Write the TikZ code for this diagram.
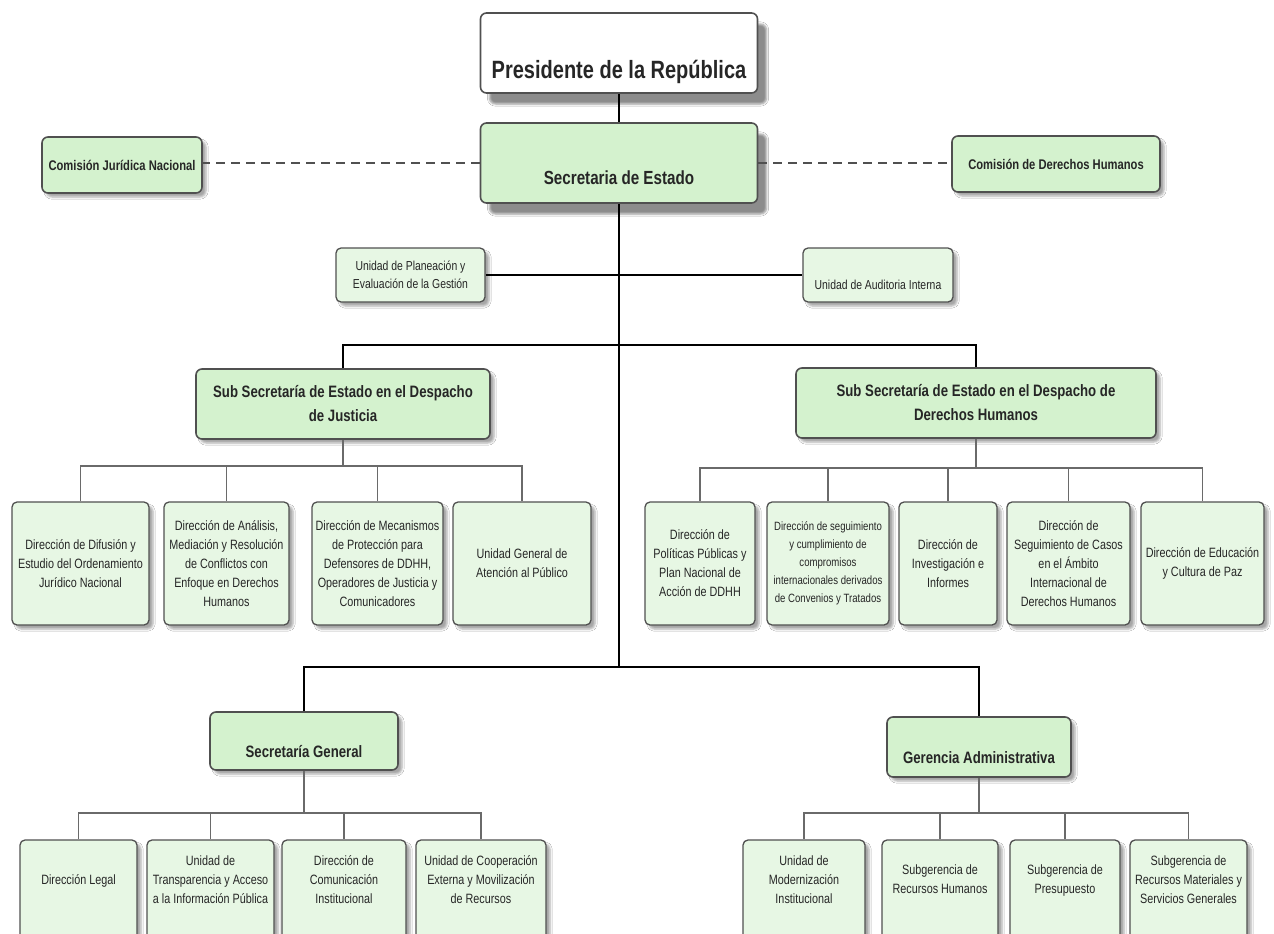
\documentclass[tikz,border=0pt]{standalone}
\usepackage{fontspec}
\setmainfont{Liberation Sans}[FakeStretch=0.8]
\usepackage{xcolor}
\usetikzlibrary{shadows.blur}

\definecolor{boxgreen}{HTML}{D4F2CE}
\definecolor{leafgreen}{HTML}{E7F7E4}
\definecolor{boxline}{HTML}{505050}
\definecolor{branchgray}{HTML}{6A6A6A}

% struts that push the text down or up inside a box
\newcommand{\lowtxt}[1]{\rule{0pt}{#1}}
\newcommand{\hightxt}[1]{\rule[-#1]{0pt}{0pt}}

\begin{document}
\begin{tikzpicture}[x=1pt, y=-1pt]
        \tikzset{
                basic/.style       = {draw=boxline, line width=1.6pt, rounded corners=6pt, align=center,
                                      inner sep=2pt, text=black!85},
                bigshadow/.style   = {blur shadow={shadow xshift=9pt, shadow yshift=-11pt, shadow opacity=45}},
                smallshadow/.style = {blur shadow={shadow xshift=4pt, shadow yshift=-4pt, shadow opacity=35}},
                presbox/.style     = {basic, bigshadow, fill=white, minimum width=277, minimum height=80,
                                      font=\bfseries\fontsize{25}{30}\selectfont},
                secbox/.style      = {presbox, fill=boxgreen, font=\bfseries\fontsize{19}{24}\selectfont},
                sidebox/.style     = {basic, smallshadow, fill=boxgreen, minimum height=56,
                                      font=\bfseries\fontsize{14}{18}\selectfont},
                unitbox/.style     = {basic, smallshadow, fill=leafgreen, line width=1.3pt, rounded corners=5pt,
                                      minimum height=54, font=\fontsize{13}{18}\selectfont},
                headbox/.style     = {basic, smallshadow, fill=boxgreen,
                                      font=\bfseries\fontsize{16.5}{24}\selectfont,
                                      execute at begin node=\lowtxt{33pt}},
                leafbox/.style     = {unitbox, minimum height=123, font=\fontsize{13.5}{19}\selectfont},
                baseleaf/.style    = {leafbox, minimum height=110, execute at end node=\hightxt{31pt}},
                trunkline/.style   = {line width=2.6pt, black},
                branchline/.style  = {line width=1.6pt, branchgray},
                linkdash/.style    = {line width=1.8pt, boxline, dash pattern=on 9pt off 6pt}
        }
        \useasboundingbox (0,0) rectangle (1274,934);
        \fill[white] (0,0) rectangle (1274,934);
        \clip (0,0) rectangle (1274,934);

        % head of the chart
        \node[presbox] (pres) at (619,53) {\lowtxt{57pt}Presidente de la República};
        \node[secbox]  (sec)  at (619,163) {\lowtxt{43pt}Secretaria de Estado};

        % commissions on both sides
        \node[sidebox, minimum width=160] (cjn) at (122,165) {Comisión Jurídica Nacional};
        \node[sidebox, minimum width=208] (cdh) at (1056,164) {Comisión de Derechos Humanos};

        % staff units
        \node[unitbox, minimum width=149] (upeg) at (410.5,275) {Unidad de Planeación y\\Evaluación de la Gestión};
        \node[unitbox, minimum width=150] (uai)  at (878,275) {\lowtxt{29pt}Unidad de Auditoria Interna};

        % sub secretarias and general offices
        \node[headbox, minimum width=294, minimum height=70] (sj)  at (343,404) {Sub Secretaría de Estado en el Despacho\\de Justicia};
        \node[headbox, minimum width=360, minimum height=70] (sdh) at (976,403) {Sub Secretaría de Estado en el Despacho de\\Derechos Humanos};
        \node[headbox, minimum width=188, minimum height=58] (sg)  at (304,741) {Secretaría General};
        \node[headbox, minimum width=184, minimum height=60] (ga)  at (979,747) {Gerencia Administrativa};

        % offices under the sub secretarias
        \begin{scope}[every node/.style={leafbox}]
                % Justicia
                \node[minimum width=137] (sj1) at (80.5,563.5) {Dirección de Difusión y\\Estudio del Ordenamiento\\Jurídico Nacional};
                \node[minimum width=125] (sj2) at (226.5,563.5) {Dirección de Análisis,\\Mediación y Resolución\\de Conflictos con\\Enfoque en Derechos\\Humanos};
                \node[minimum width=131] (sj3) at (377.5,563.5) {Dirección de Mecanismos\\de Protección para\\Defensores de DDHH,\\Operadores de Justicia y\\Comunicadores};
                \node[minimum width=138] (sj4) at (522,563.5) {Unidad General de\\Atención al Público};

                % Derechos Humanos
                \node[minimum width=110] (sdh1) at (700,563.5) {Dirección de\\Políticas Públicas y\\Plan Nacional de\\Acción de DDHH};
                \node[minimum width=122, font=\fontsize{12}{18}\selectfont] (sdh2) at (828,563.5) {Dirección de seguimiento\\y cumplimiento de\\compromisos\\internacionales derivados\\de Convenios y Tratados};
                \node[minimum width=98]  (sdh3) at (948,563.5) {Dirección de\\Investigación e\\Informes};
                \node[minimum width=123] (sdh4) at (1068.5,563.5) {Dirección de\\Seguimiento de Casos\\en el Ámbito\\Internacional de\\Derechos Humanos};
                \node[minimum width=123] (sdh5) at (1202.5,563.5) {Dirección de Educación\\y Cultura de Paz};
        \end{scope}

        % offices at the bottom, cut by the edge
        \begin{scope}[every node/.style={baseleaf}]
                % Secretaría General
                \node[minimum width=117] (sg1) at (78.5,895) {Dirección Legal};
                \node[minimum width=127] (sg2) at (210.5,895) {Unidad de\\Transparencia y Acceso\\a la Información Pública};
                \node[minimum width=124] (sg3) at (344,895) {Dirección de\\Comunicación\\Institucional};
                \node[minimum width=130] (sg4) at (481,895) {Unidad de Cooperación\\Externa y Movilización\\de Recursos};

                % Gerencia Administrativa
                \node[minimum width=122] (ga1) at (804,895) {Unidad de\\Modernización\\Institucional};
                \node[minimum width=116] (ga2) at (940,895) {Subgerencia de\\Recursos Humanos};
                \node[minimum width=110] (ga3) at (1065,895) {Subgerencia de\\Presupuesto};
                \node[minimum width=117] (ga4) at (1188.5,895) {Subgerencia de\\Recursos Materiales y\\Servicios Generales};
        \end{scope}

        % main lines
        \coordinate (fork1) at (619,345);
        \coordinate (fork2) at (619,667);
        \draw[line width=1.8pt] (pres) -- (sec);
        \draw[trunkline] (sec) -- (fork2);
        \draw[trunkline] (upeg) -- (uai);
        \draw[trunkline] (sj) |- (fork1) -| (sdh);
        \draw[trunkline] (sg) |- (fork2) -| (ga);
        \draw[linkdash] (sec.west) -- (sec.west -| cjn.east);
        \draw[linkdash] (sec.east) -- (sec.east -| cdh.west);

        % lines from each office to its children
        \foreach \parent/\gap/\n in {sj/26/4, sdh/29/5, sg/42/4, ga/35/4} {
                \path (\parent.south) -- +(0,\gap) coordinate (fork\parent);
                \draw[branchline] (\parent.south) -- (fork\parent);
                \foreach \kid in {1,...,\n} {
                        \draw[branchline] (fork\parent) -| (\parent\kid);
                }
        };
\end{tikzpicture}
\end{document}
